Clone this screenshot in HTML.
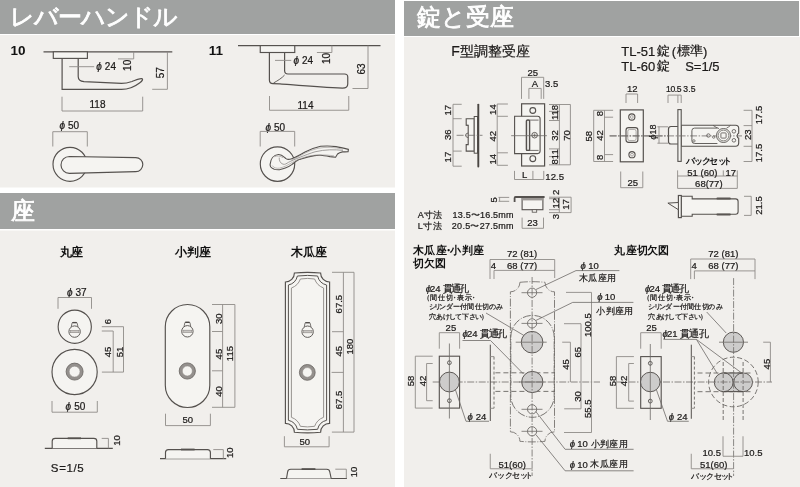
<!DOCTYPE html><html lang="ja"><head><meta charset="utf-8"><style>
html,body{margin:0;padding:0;background:#fff;width:800px;height:487px;overflow:hidden}
svg{display:block;font-family:"Liberation Sans",sans-serif;will-change:transform}
.o{fill:none;stroke:#55514e;stroke-width:1.2}
.of{fill:#f5f4f1;stroke:#55514e;stroke-width:1.15}
.d{fill:none;stroke:#8e8b88;stroke-width:0.9}
.dk{fill:none;stroke:#6d6a67;stroke-width:0.8}
.cl{fill:none;stroke:#6f6b68;stroke-width:0.8;stroke-dasharray:7 1.5 1.5 1.5}
.ds{fill:none;stroke:#6a6663;stroke-width:0.9;stroke-dasharray:3 2}
.g{fill:#cdcccb;stroke:#55514e;stroke-width:0.95}
.t{fill:#1c1a19;stroke:#1c1a19;stroke-width:0.22px}
.tb{fill:#111;font-weight:bold}
.h{fill:#fff;stroke:#fff;stroke-width:0.8px}
.h2{letter-spacing:-0.9px}
.phi{font-style:italic}
</style></head><body>
<svg width="800" height="487" viewBox="0 0 800 487">
<rect x="0" y="0" width="800" height="487" fill="#fff"/>
<rect x="0" y="0" width="395" height="34" fill="#a0a2a1"/>
<rect x="0" y="35" width="395" height="152.5" fill="#f1efec"/>
<rect x="0" y="193" width="395" height="36" fill="#a0a2a1"/>
<rect x="0" y="230.5" width="395" height="256.5" fill="#f1efec"/>
<rect x="404" y="1" width="395" height="35" fill="#a0a2a1"/>
<rect x="404" y="37" width="396" height="450" fill="#f1efec"/>
<text x="9.78" y="25.02" font-size="23.5" class="h" style="letter-spacing:-0.95px">レバーハンドル</text>
<text x="11.29" y="219.12" font-size="23.5" class="h" >座</text>
<text x="416.76" y="25.12" font-size="23.5" class="h" >錠と受座</text>
<text x="10.62" y="54.8" font-size="13.5" class="tb" >10</text>
<line x1="43.5" y1="51.8" x2="172.3" y2="51.8" class="o" />
<rect x="53.3" y="51.8" width="34.1" height="6.6" class="of" />
<path d="M62.1,58.4 V89.4 H121.5 C128,89.4 135,86.5 139.5,83 C142.5,80.8 143.5,79 141.5,78.6 C139.5,78.3 136,80 132,81.5 C128,82.8 125,83.4 121.5,83.4 L84,81.6 C80,81.3 78.2,79.5 78.2,76.5 V58.4" class="o" />
<line x1="69.2" y1="66.7" x2="94.2" y2="66.7" class="d" />
<text x="96.3" y="70" font-size="10" class="t"><tspan class="phi">ϕ</tspan><tspan dx="3.0">24</tspan></text>
<text transform="translate(131.2,70.9) rotate(-90)" font-size="10" class="t" >10</text>
<polyline points="118,58.9 133.7,58.9 133.7,51.8" class="d" />
<text transform="translate(164,78.3) rotate(-90)" font-size="10" class="t" >57</text>
<polyline points="152.2,89.3 167.4,89.3 167.4,51.8" class="d" />
<polyline points="62,96.7 62,111 142.7,111 142.7,96.7" class="d" />
<text x="89.5" y="108.4" font-size="10" class="t" >118</text>
<text x="59.5" y="129.4" font-size="10" class="t"><tspan class="phi">ϕ</tspan><tspan dx="3.0">50</tspan></text>
<polyline points="52.8,146.5 52.8,131.7 87.3,131.7 87.3,146.5" class="d" />
<circle cx="70" cy="164.3" r="17" class="of" />
<path d="M69.4,156.5 L135.8,157.6 A7,7 0 0 1 135.8,171.6 L69.4,173.3 A8.4,8.4 0 0 1 69.4,156.5 Z" class="of" />
<text x="208.82" y="54.75" font-size="13.5" class="tb" >11</text>
<line x1="238" y1="45.6" x2="380.5" y2="45.6" class="o" />
<rect x="260.25" y="45.6" width="34.5" height="6.9" class="of" />
<path d="M269.4,52.5 V80 Q269.4,83.6 273,83.7 L280,83.8 C295,85 320,87.5 342.5,88.1 Q347.75,88.1 347.75,84 V77 Q347.75,74 344.5,74 H288 Q284.6,74 284.6,70.5 V52.5" class="o" />
<path d="M284.6,75 C282,78 278,80.5 273.5,83" class="o"  style="stroke-width:0.9"/>
<line x1="275" y1="60.4" x2="291.25" y2="60.4" class="d" />
<text x="293.5" y="63.75" font-size="10" class="t"><tspan class="phi">ϕ</tspan><tspan dx="3.0">24</tspan></text>
<text transform="translate(330,64.0) rotate(-90)" font-size="10" class="t" >10</text>
<polyline points="316.9,52.5 331.9,52.5 331.9,45.6" class="d" />
<text transform="translate(365,74.5) rotate(-90)" font-size="10" class="t" >63</text>
<polyline points="352.5,88.5 368,88.5 368,45.6" class="d" />
<polyline points="269.5,96 269.5,110.25 348.75,110.25 348.75,96" class="d" />
<text x="297.5" y="108.5" font-size="10" class="t" >114</text>
<text x="265.4" y="130.5" font-size="10" class="t"><tspan class="phi">ϕ</tspan><tspan dx="3.0">50</tspan></text>
<polyline points="260.2,146.5 260.2,131.4 294.7,131.4 294.7,146.5" class="d" />
<circle cx="277.5" cy="164.1" r="17.2" class="of" />
<path d="M270.1,164.4 C270.5,159 273.5,154.8 278.5,154.5 C282,154.4 284,157 286,158.6 C287.5,159.6 289,159.6 291,159 C296,157.5 300,155 305,152 C310,149.5 315,147.5 320.6,146.3 C327,145.6 332,146 336,146.6 C340,147.3 344,148.3 348.4,149.4 L348.1,151.6 C346,151.7 344,151.8 342.5,151.9 C340,152.4 338.5,153.2 337.5,154 L335.6,157.2 C333,156.8 331.5,156.6 330,156.6 C326,155.9 323,155.4 320.6,155.3 C318,155.2 316.5,155.3 314.4,155.6 C308,156.5 304,158 299,159.6 C296,161 294,162.8 292.1,164.4 C290,166 288,167.2 285.3,168 C282,169.2 280,169.8 278.5,169.8 C276,169.8 274.5,169.6 273.8,169.1 C272.5,168.5 271.5,167.8 270.8,167 C270.3,166.2 270.1,165.4 270.1,164.4 Z" class="of"  style="stroke-width:1.1"/>
<path d="M279.2,157.6 C279,160.5 280.5,163.5 283,164.2 C285,164.8 286.5,163.5 288.5,162.3 C294,159.5 305,155 315,151.8 C325,149.4 335,149.4 343,150.4" class="o"  style="stroke-width:0.75;stroke:#858180"/>
<path d="M272.2,165.5 C273.5,167.8 276.5,168.6 279.5,168.1 C284,167.2 288,165 292,162.5 C297,159.6 303,157.4 309,156 C316,154.6 324,154.4 334,155.8" class="o"  style="stroke-width:0.6;stroke:#9a9693"/>
<path d="M274.5,156.8 C277,155.6 280.5,155.8 283,157.8 M291.5,160.2 C300,156 308,150.5 318,148.3 C326,146.8 334,147 343,149.2" class="o"  style="stroke-width:0.6;stroke:#9a9693"/>
<text x="60.0 71.24" y="256.04" font-size="12" class="tb" >丸座</text>
<text x="174.64 186.99 198.74" y="256.04" font-size="12" class="tb" >小判座</text>
<text x="290.92 302.71 314.74" y="256.04" font-size="12" class="tb" >木瓜座</text>
<text x="67" y="295.8" font-size="10" class="t"><tspan class="phi">ϕ</tspan><tspan dx="3.0">37</tspan></text>
<polyline points="58,308.8 58,297.5 91.5,297.5 91.5,308.8" class="d" />
<circle cx="74.75" cy="326.7" r="16.6" class="of" />
<path d="M71.19999999999999,327.0 L72.0,323.20000000000005 Q72.19999999999999,322.40000000000003 73.0,322.40000000000003 H76.19999999999999 Q77.0,322.40000000000003 77.19999999999999,323.20000000000005 L78.0,327.0" class="of"  style="stroke-width:0.9;stroke:#6a6663"/>
<line x1="72.39999999999999" y1="322.70000000000005" x2="76.8" y2="322.70000000000005" class="o"  style="stroke-width:1.2;stroke:#4a4643"/>
<circle cx="74.6" cy="331.6" r="5.7" class="of"  style="stroke-width:1;stroke:#5f5b58"/>
<rect x="70.19999999999999" y="330.5" width="8.8" height="2.2" class="o"  style="fill:#c8c5c2;stroke:#8a8683;stroke-width:0.6"/>
<circle cx="74.6" cy="372" r="22.6" class="of" />
<path d="M66.1,371.6 a8.5,8.5 0 1 0 17.0,0 a8.5,8.5 0 1 0 -17.0,0 Z M69.19999999999999,371.6 a5.3999999999999995,5.3999999999999995 0 1 0 10.799999999999999,0 a5.3999999999999995,5.3999999999999995 0 1 0 -10.799999999999999,0 Z" fill="#94908d" fill-rule="evenodd"/>
<circle cx="74.6" cy="371.6" r="8.5" class="o"  style="stroke:#67635f;stroke-width:0.8"/>
<circle cx="74.6" cy="371.6" r="5.3999999999999995" class="o"  style="stroke:#8e8a87;stroke-width:0.5"/>
<text transform="translate(110.6,324.28) rotate(-90)" font-size="9.5" class="t" >6</text>
<line x1="101.8" y1="326.7" x2="123.5" y2="326.7" class="d" />
<line x1="101.8" y1="331" x2="113.2" y2="331" class="d" />
<line x1="113.2" y1="331" x2="113.2" y2="372.1" class="d" />
<line x1="123.5" y1="326.7" x2="123.5" y2="372.1" class="d" />
<line x1="101.9" y1="372.1" x2="123.5" y2="372.1" class="d" />
<text transform="translate(111.2,357.28) rotate(-90)" font-size="9.5" class="t" >45</text>
<text transform="translate(122.6,357.28) rotate(-90)" font-size="9.5" class="t" >51</text>
<text x="65.6" y="409.8" font-size="10" class="t"><tspan class="phi">ϕ</tspan><tspan dx="3.0">50</tspan></text>
<polyline points="52,401 52,412.2 97.3,412.2 97.3,401" class="d" />
<line x1="44.8" y1="448.3" x2="112.8" y2="448.3" class="o" />
<path d="M52.2,448.3 V441.2 Q52.2,438.4 55.2,438.4 H93.8 Q96.8,438.4 96.8,441.2 V448.3" class="of" />
<line x1="67.7" y1="438.3" x2="81" y2="438.3" class="o"  style="stroke-width:1.8"/>
<polyline points="101.7,438.4 108.4,438.4 108.4,448.3" class="d" />
<text transform="translate(120.2,445.78) rotate(-90)" font-size="9.5" class="t" >10</text>
<text x="50.82" y="471.9" font-size="11.5" class="t"  textLength="32.95" lengthAdjust="spacing">S=1/5</text>
<path d="M165.3,326.75 A22.25,22.25 0 0 1 209.8,326.75 V385.25 A22.25,22.25 0 0 1 165.3,385.25 Z" class="of" />
<path d="M184.0,326.7 L184.8,322.90000000000003 Q185.0,322.1 185.8,322.1 H189.0 Q189.8,322.1 190.0,322.90000000000003 L190.8,326.7" class="of"  style="stroke-width:0.9;stroke:#6a6663"/>
<line x1="185.20000000000002" y1="322.40000000000003" x2="189.6" y2="322.40000000000003" class="o"  style="stroke-width:1.2;stroke:#4a4643"/>
<circle cx="187.4" cy="331.3" r="5.7" class="of"  style="stroke-width:1;stroke:#5f5b58"/>
<rect x="183.0" y="330.2" width="8.8" height="2.2" class="o"  style="fill:#c8c5c2;stroke:#8a8683;stroke-width:0.6"/>
<path d="M179.20000000000002,371.0 a8.1,8.1 0 1 0 16.2,0 a8.1,8.1 0 1 0 -16.2,0 Z M182.3,371.0 a4.999999999999999,4.999999999999999 0 1 0 9.999999999999998,0 a4.999999999999999,4.999999999999999 0 1 0 -9.999999999999998,0 Z" fill="#94908d" fill-rule="evenodd"/>
<circle cx="187.3" cy="371.0" r="8.1" class="o"  style="stroke:#67635f;stroke-width:0.8"/>
<circle cx="187.3" cy="371.0" r="4.999999999999999" class="o"  style="stroke:#8e8a87;stroke-width:0.5"/>
<line x1="212" y1="304.5" x2="234.9" y2="304.5" class="d" />
<line x1="212" y1="331.5" x2="222.6" y2="331.5" class="d" />
<line x1="212" y1="370.8" x2="222.6" y2="370.8" class="d" />
<line x1="212" y1="407.3" x2="234.9" y2="407.3" class="d" />
<line x1="222.6" y1="304.5" x2="222.6" y2="407.3" class="d" />
<line x1="234.9" y1="304.5" x2="234.9" y2="407.3" class="d" />
<text transform="translate(222.4,324.08) rotate(-90)" font-size="9.5" class="t" >30</text>
<text transform="translate(222.2,359.38) rotate(-90)" font-size="9.5" class="t" >45</text>
<text transform="translate(222.2,396.68) rotate(-90)" font-size="9.5" class="t" >40</text>
<text transform="translate(232.8,361.18) rotate(-90)" font-size="9.5" class="t" >115</text>
<polyline points="165.5,413.7 165.5,425.6 210.4,425.6 210.4,413.7" class="d" />
<text x="182.53" y="423.3" font-size="9.5" class="t" >50</text>
<line x1="160" y1="458.7" x2="226.2" y2="458.7" class="o" />
<path d="M165.5,458.7 V452.6 Q165.5,449.6 168.5,449.6 H207.4 Q210.4,449.6 210.4,452.6 V458.7" class="of" />
<line x1="181" y1="449.5" x2="194.6" y2="449.5" class="o"  style="stroke-width:1.8"/>
<polyline points="213.3,449.6 223.3,449.6 223.3,458.7" class="d" />
<text transform="translate(233.4,457.98) rotate(-90)" font-size="9.5" class="t" >10</text>
<path d="M294.40,273.00 Q307.50,271.80 320.60,273.00 A9,9 0 0 0 329.60,282.00 V423.30 A9,9 0 0 0 320.60,432.30 Q307.50,433.50 294.40,432.30 A9,9 0 0 0 285.40,423.30 V282.00 A9,9 0 0 0 294.40,273.00 Z" class="of" />
<path d="M297.40,276.00 Q307.50,274.80 317.60,276.00 A12.0,12.0 0 0 0 326.60,285.00 V420.30 A12.0,12.0 0 0 0 317.60,429.30 Q307.50,430.50 297.40,429.30 A12.0,12.0 0 0 0 288.40,420.30 V285.00 A12.0,12.0 0 0 0 297.40,276.00 Z" class="o"  style="stroke-width:1"/>
<path d="M300.40,279.00 Q307.50,277.80 314.60,279.00 A15.0,15.0 0 0 0 323.60,288.00 V417.30 A15.0,15.0 0 0 0 314.60,426.30 Q307.50,427.50 300.40,426.30 A15.0,15.0 0 0 0 291.40,417.30 V288.00 A15.0,15.0 0 0 0 300.40,279.00 Z" class="o"  style="stroke:#8c8885;stroke-width:0.9"/>
<path d="M304.20000000000005,327.09999999999997 L305.0,323.3 Q305.20000000000005,322.5 306.0,322.5 H309.20000000000005 Q310.0,322.5 310.20000000000005,323.3 L311.0,327.09999999999997" class="of"  style="stroke-width:0.9;stroke:#6a6663"/>
<line x1="305.40000000000003" y1="322.8" x2="309.8" y2="322.8" class="o"  style="stroke-width:1.2;stroke:#4a4643"/>
<circle cx="307.6" cy="331.7" r="5.7" class="of"  style="stroke-width:1;stroke:#5f5b58"/>
<rect x="303.20000000000005" y="330.59999999999997" width="8.8" height="2.2" class="o"  style="fill:#c8c5c2;stroke:#8a8683;stroke-width:0.6"/>
<path d="M299.40000000000003,372.4 a7.9,7.9 0 1 0 15.8,0 a7.9,7.9 0 1 0 -15.8,0 Z M302.5,372.4 a4.8,4.8 0 1 0 9.6,0 a4.8,4.8 0 1 0 -9.6,0 Z" fill="#94908d" fill-rule="evenodd"/>
<circle cx="307.3" cy="372.4" r="7.9" class="o"  style="stroke:#67635f;stroke-width:0.8"/>
<circle cx="307.3" cy="372.4" r="4.8" class="o"  style="stroke:#8e8a87;stroke-width:0.5"/>
<line x1="343.4" y1="272.3" x2="343.4" y2="432.1" class="d" />
<line x1="354.0" y1="272.3" x2="354.0" y2="432.1" class="d" />
<line x1="332" y1="272.3" x2="354" y2="272.3" class="d" />
<line x1="332" y1="331.7" x2="343.4" y2="331.7" class="d" />
<line x1="331.6" y1="372.4" x2="343.4" y2="372.4" class="d" />
<line x1="331.9" y1="432.1" x2="354" y2="432.1" class="d" />
<text transform="translate(342.3,313.38) rotate(-90)" font-size="9.5" class="t" >67.5</text>
<text transform="translate(342.3,356.48) rotate(-90)" font-size="9.5" class="t" >45</text>
<text transform="translate(342.3,409.28) rotate(-90)" font-size="9.5" class="t" >67.5</text>
<text transform="translate(353.2,354.48) rotate(-90)" font-size="9.5" class="t" >180</text>
<polyline points="284.4,436.2 284.4,446.8 329.1,446.8 329.1,436.2" class="d" />
<text x="299.52" y="445.4" font-size="9.5" class="t" >50</text>
<line x1="280.3" y1="478.5" x2="347" y2="478.5" class="o" />
<path d="M286.5,478.5 L287.6,472 Q287.9,469.2 290.8,469.2 H326.6 Q329.5,469.2 329.8,472 L331.2,478.5" class="of" />
<line x1="301.6" y1="469.1" x2="315.4" y2="469.1" class="o"  style="stroke-width:1.8"/>
<polyline points="335.3,469.2 346.3,469.2 346.3,478.5" class="d" />
<text transform="translate(357.3,477.18) rotate(-90)" font-size="9.5" class="t" >10</text>
<text x="451.18 460.06 474.4 488.32 502.38 516.16" y="55.78" font-size="14" class="t" >F型調整受座</text>
<text x="621.25" y="55.75" font-size="13" class="t" >TL-51</text>
<text x="656.87" y="55.36" font-size="13" class="t" >錠</text>
<text x="671.75" y="55.75" font-size="13" class="t" >(</text>
<text x="677.47" y="55.36" font-size="13" class="t" style="letter-spacing:-0.6px">標準</text>
<text x="702.95" y="55.75" font-size="13" class="t" >)</text>
<text x="621.25" y="70.9" font-size="13" class="t" >TL-60</text>
<text x="656.87" y="70.46" font-size="13" class="t" >錠</text>
<text x="685.15" y="70.9" font-size="13" class="t" >S=1/5</text>
<line x1="453" y1="104.3" x2="453" y2="166.2" class="d" />
<line x1="453" y1="104.3" x2="461.7" y2="104.3" class="d" />
<line x1="453" y1="118.7" x2="461.7" y2="118.7" class="d" />
<line x1="453" y1="151.1" x2="461.7" y2="151.1" class="d" />
<line x1="453" y1="166.2" x2="461.7" y2="166.2" class="d" />
<text transform="translate(451.3,115.57) rotate(-90)" font-size="9.5" class="t" >17</text>
<text transform="translate(451.3,140.07) rotate(-90)" font-size="9.5" class="t" >36</text>
<text transform="translate(451.3,162.38) rotate(-90)" font-size="9.5" class="t" >17</text>
<path d="M474.3,118.7 H466.2 V125.3 H468.2 V144.6 H466.2 V151.1 H474.3 Z" class="of"  style="stroke-width:1.1"/>
<line x1="466.2" y1="125.3" x2="468.2" y2="125.3" class="o"  style="stroke-width:0.7"/>
<rect x="474.2" y="116.5" width="3.4" height="36.7" class="of"  style="stroke-width:1.0"/>
<path d="M468.2,133 Q465.6,133.2 465.6,135.3 Q465.6,137.4 468.2,137.6" class="o"  style="stroke-width:0.8"/>
<line x1="478.3" y1="104.6" x2="478.3" y2="166.5" class="o"  style="stroke-width:1.9;stroke-linecap:round;stroke:#4a4643"/>
<line x1="456.6" y1="135.3" x2="482.5" y2="135.3" class="cl" />
<text x="527.52" y="75.8" font-size="9.5" class="t" >25</text>
<polyline points="521.5,98.9 521.5,77.3 543.7,77.3 543.7,98.9" class="d" />
<text x="531.73" y="86.9" font-size="9.5" class="t" >A</text>
<polyline points="528.9,98.9 528.9,88.4 541.2,88.4 541.2,98.9" class="d" />
<text x="545.02" y="86.9" font-size="9.5" class="t" >3.5</text>
<rect x="521.6" y="103.8" width="23" height="62.2" class="of"  style="stroke-width:1.2"/>
<circle cx="532.8" cy="110.5" r="2.9" class="o"  style="stroke-width:1.1"/>
<circle cx="532.8" cy="158.7" r="2.9" class="o"  style="stroke-width:1.1"/>
<path d="M514.6,116.3 H537.6 Q540.1,116.3 540.1,118.8 V151.1 Q540.1,153.6 537.6,153.6 H514.6 Z" class="of"  style="stroke-width:1.1"/>
<path d="M538.6,120.1 H526.6 V150.4 H538.6" class="o"  style="stroke-width:0.8"/>
<rect x="526.4" y="120.1" width="3.2" height="30.3" class="o" rx="0.8" style="stroke-width:1.4"/>
<line x1="511.2" y1="135.7" x2="546.9" y2="135.7" class="dk" />
<circle cx="534.6" cy="135.2" r="2.8" class="o"  style="stroke-width:0.9"/>
<line x1="532.8" y1="135.2" x2="536.4" y2="135.2" class="o"  style="stroke-width:0.6"/>
<line x1="534.6" y1="133.4" x2="534.6" y2="137" class="o"  style="stroke-width:0.6"/>
<line x1="497.2" y1="104" x2="497.2" y2="165.3" class="d" />
<line x1="497.2" y1="104" x2="507.9" y2="104" class="d" />
<line x1="497.2" y1="116.3" x2="507.9" y2="116.3" class="d" />
<line x1="497.2" y1="152.8" x2="507.9" y2="152.8" class="d" />
<line x1="497.2" y1="165.3" x2="507.9" y2="165.3" class="d" />
<text transform="translate(495.9,114.88) rotate(-90)" font-size="9.5" class="t" >14</text>
<text transform="translate(495.9,141.47) rotate(-90)" font-size="9.5" class="t" >42</text>
<text transform="translate(495.9,164.47) rotate(-90)" font-size="9.5" class="t" >14</text>
<line x1="559.4" y1="104.5" x2="559.4" y2="164.8" class="d" />
<line x1="570.4" y1="104.5" x2="570.4" y2="164.8" class="d" />
<line x1="549" y1="104.5" x2="570.4" y2="104.5" class="d" />
<line x1="549" y1="164.8" x2="570.4" y2="164.8" class="d" />
<line x1="549" y1="111.4" x2="559.4" y2="111.4" class="d" />
<line x1="549" y1="120.5" x2="559.4" y2="120.5" class="d" />
<line x1="549" y1="148.9" x2="559.4" y2="148.9" class="d" />
<line x1="549" y1="156.6" x2="559.4" y2="156.6" class="d" />
<text transform="translate(558,120.07) rotate(-90)" font-size="9.5" class="t" >118</text>
<text transform="translate(558,140.67) rotate(-90)" font-size="9.5" class="t" >32</text>
<text transform="translate(558,164.47) rotate(-90)" font-size="9.5" class="t" >811</text>
<text transform="translate(569.6,140.67) rotate(-90)" font-size="9.5" class="t" >70</text>
<polyline points="514.5,170.9 514.5,179.5 543.75,179.5 543.75,170.9" class="d" />
<line x1="532.9" y1="170.9" x2="532.9" y2="179.5" class="d" />
<text x="521.92" y="177.6" font-size="9.5" class="t" >L</text>
<text x="545.32" y="179.9" font-size="9.6" class="t" >12.5</text>
<line x1="498.5" y1="197.4" x2="509.2" y2="197.4" class="d" />
<line x1="498.5" y1="201.3" x2="509.2" y2="201.3" class="d" />
<line x1="499.6" y1="197.4" x2="499.6" y2="201.3" class="d" />
<text transform="translate(496.8,202.38) rotate(-90)" font-size="9.5" class="t" >5</text>
<rect x="522.1" y="197.2" width="20.8" height="12.5" class="of"  style="stroke-width:1.1"/>
<rect x="522.1" y="197.2" width="20.8" height="3.2" class="o"  style="fill:#9b9794;stroke:none"/>
<path d="M514.6,202 V198 Q514.6,197 515.6,197 H544.6" class="o"  style="stroke-width:1.8"/>
<rect x="532.2" y="209.7" width="4.5" height="2.5" class="of"  style="stroke-width:0.8"/>
<polyline points="522.1,217.6 522.1,228.3 543.5,228.3 543.5,217.6" class="d" />
<text x="527.23" y="226" font-size="9.5" class="t" >23</text>
<line x1="549.1" y1="197.2" x2="571.1" y2="197.2" class="d" />
<line x1="549.1" y1="198.7" x2="559.3" y2="198.7" class="d" />
<line x1="559.3" y1="197.2" x2="559.3" y2="212.6" class="d" />
<line x1="571.1" y1="197.2" x2="571.1" y2="212.6" class="d" />
<line x1="549" y1="209.7" x2="559.3" y2="209.7" class="d" />
<line x1="549" y1="212.6" x2="571.1" y2="212.6" class="d" />
<text transform="translate(558.7,195.07) rotate(-90)" font-size="9.5" class="t" >2</text>
<text transform="translate(558.7,208.47) rotate(-90)" font-size="9.5" class="t" >12</text>
<text transform="translate(568.8,209.67) rotate(-90)" font-size="9.5" class="t" >17</text>
<text transform="translate(558.7,219.17) rotate(-90)" font-size="9.5" class="t" >3</text>
<text x="417.8 424.13 433.16" y="218.03" font-size="9" class="t" >A寸法</text>
<text x="452.55" y="218.3" font-size="9" class="t"  textLength="60.90" lengthAdjust="spacing">13.5〜16.5mm</text>
<text x="417.78 423.49 433.16" y="228.53" font-size="9" class="t" >L寸法</text>
<text x="451.85" y="229" font-size="9" class="t"  textLength="61.60" lengthAdjust="spacing">20.5〜27.5mm</text>
<text x="626.92" y="92.3" font-size="9.5" class="t" >12</text>
<polyline points="626,103 626,94 637.6,94 637.6,103" class="d" />
<rect x="620.3" y="109.9" width="23" height="51.9" class="of"  style="stroke-width:1.2"/>
<circle cx="631.8" cy="117" r="3.1" class="o"  style="stroke-width:1.1"/>
<circle cx="631.8" cy="117" r="1.4" class="o"  style="stroke-width:0.7;stroke:#8c8885"/>
<circle cx="632" cy="154.7" r="3.1" class="o"  style="stroke-width:1.1"/>
<circle cx="632" cy="154.7" r="1.4" class="o"  style="stroke-width:0.7;stroke:#8c8885"/>
<rect x="626" y="127.6" width="11.9" height="14.8" class="of" rx="2.6" style="stroke-width:1.1"/>
<rect x="627.8" y="129.4" width="8.3" height="11.2" class="o" rx="1.8" style="stroke-width:0.7;stroke:#8c8885"/>
<line x1="609.6" y1="135.9" x2="668" y2="135.9" class="cl" />
<line x1="593.7" y1="110.3" x2="593.7" y2="161.5" class="d" />
<line x1="604.5" y1="110.3" x2="604.5" y2="161.5" class="d" />
<line x1="593.7" y1="110.3" x2="613.1" y2="110.3" class="d" />
<line x1="604.5" y1="117.2" x2="613.1" y2="117.2" class="d" />
<line x1="604.5" y1="154.6" x2="613.1" y2="154.6" class="d" />
<line x1="593.7" y1="161.5" x2="613.1" y2="161.5" class="d" />
<text transform="translate(592,141.47) rotate(-90)" font-size="9.5" class="t" >58</text>
<text transform="translate(603,140.67) rotate(-90)" font-size="9.5" class="t" >42</text>
<text transform="translate(603,116.27) rotate(-90)" font-size="9.5" class="t" >8</text>
<text transform="translate(603,160.07) rotate(-90)" font-size="9.5" class="t" >8</text>
<polyline points="620.7,171.5 620.7,187.7 642.8,187.7 642.8,171.5" class="d" />
<text x="627.52" y="186.1" font-size="9.5" class="t" >25</text>
<text x="665.97" y="92.3" font-size="8.6" class="t"  textLength="15.66" lengthAdjust="spacing">10.5</text>
<text x="683.27" y="92.3" font-size="8.6" class="t"  textLength="12.36" lengthAdjust="spacing">3.5</text>
<polyline points="668,103 668,95.1 681.2,95.1 681.2,103" class="d" />
<line x1="677.9" y1="95.1" x2="677.9" y2="103" class="d" />
<path d="M681.2,125.2 H735.6 Q738.7,125.2 738.7,128.3 V133.2 Q737.2,133.6 737.2,135.7 Q737.2,137.8 738.7,138.2 V143.1 Q738.7,146.2 735.6,146.2 H681.2 Z" class="of"  style="stroke-width:1.1"/>
<path d="M677.9,126.5 H671 Q668.5,126.5 668.5,129 V141.5 Q668.5,144 671,144 H677.9" class="of"  style="stroke-width:1.2"/>
<rect x="677.9" y="109.6" width="3.3" height="51.8" class="of"  style="stroke-width:1.1"/>
<line x1="609.6" y1="135.9" x2="742" y2="135.9" class="cl" />
<path d="M717.4,128.1 H694.5 Q691.9,128.1 691.9,130.7 V140.9 Q691.9,143.5 694.5,143.5 H717.4" class="o"  style="stroke-width:0.9"/>
<circle cx="693.9" cy="140.9" r="1.2" class="o"  style="stroke-width:0.7"/>
<path d="M713.1,125.4 Q716,127.5 719,128.6 M726.5,128.2 Q729,126.8 730.5,125.4" class="o"  style="stroke-width:0.8"/>
<circle cx="723.5" cy="135.5" r="7.0" class="of"  style="stroke-width:0.9"/>
<circle cx="723.5" cy="135.5" r="5.4" class="o"  style="stroke-width:0.7"/>
<rect x="720.9" y="132.9" width="5.2" height="5.2" class="o" rx="0.8" style="stroke-width:0.8"/>
<circle cx="733.9" cy="131.3" r="1.8" class="o"  style="stroke-width:0.8"/>
<circle cx="733.9" cy="140.3" r="1.8" class="o"  style="stroke-width:0.8"/>
<circle cx="708.4" cy="135.5" r="1.7" class="o"  style="stroke-width:0.8"/>
<circle cx="713.7" cy="137.1" r="1.2" class="o"  style="stroke-width:0.7"/>
<line x1="657.4" y1="126.8" x2="668" y2="126.8" class="d" />
<line x1="657.4" y1="143.2" x2="668" y2="143.2" class="d" />
<line x1="659" y1="126.8" x2="659" y2="143.2" class="d" />
<text transform="translate(655.6,139.6) rotate(-90)" font-size="9" class="t"><tspan class="phi">ϕ</tspan>18</text>
<line x1="752" y1="110.3" x2="752" y2="161.5" class="d" />
<line x1="743.6" y1="110.3" x2="752" y2="110.3" class="d" />
<line x1="743.6" y1="125.6" x2="752" y2="125.6" class="d" />
<line x1="743.6" y1="146.3" x2="752" y2="146.3" class="d" />
<line x1="743.6" y1="161.5" x2="752" y2="161.5" class="d" />
<text transform="translate(750.8,139.97) rotate(-90)" font-size="9.5" class="t" >23</text>
<text transform="translate(761.6,124.17) rotate(-90)" font-size="9.5" class="t" >17.5</text>
<text transform="translate(761.6,162.28) rotate(-90)" font-size="9.5" class="t" >17.5</text>
<text x="685.56 693.97 701.58 709.25 718.17 723.32" y="163.55" font-size="8.8" class="tb" >バックセット</text>
<line x1="677.6" y1="176" x2="737.3" y2="176" class="d" />
<line x1="677.6" y1="188.4" x2="737.3" y2="188.4" class="d" />
<line x1="677.6" y1="170.4" x2="677.6" y2="188.4" class="d" />
<line x1="737.3" y1="170.4" x2="737.3" y2="188.4" class="d" />
<line x1="723.3" y1="170.4" x2="723.3" y2="176" class="d" />
<text x="687.32" y="175.7" font-size="9.5" class="t" >51 (60)</text>
<text x="725.52" y="175.7" font-size="9.5" class="t" >17</text>
<text x="695.12" y="187.3" font-size="9.5" class="t" >68(77)</text>
<path d="M681,196.3 H692.2 V198.9 H735.6 Q738.1,198.9 738.1,201.4 V211.8 Q738.1,214.3 735.6,214.3 H692.2 V216.2 H681 Z" class="of"  style="stroke-width:1.1"/>
<rect x="716.4" y="197.5" width="14.5" height="2.1" class="o" rx="1" style="fill:#5a5653;stroke:none"/>
<rect x="716.4" y="213.5" width="14.5" height="2.1" class="o" rx="1" style="fill:#5a5653;stroke:none"/>
<rect x="678.4" y="195.5" width="2.9" height="22.1" class="of"  style="stroke-width:1.2"/>
<path d="M678.4,202.5 L667.9,203.1 L678.4,209.7 Z" class="of"  style="stroke-width:1"/>
<line x1="744" y1="196.3" x2="751.2" y2="196.3" class="d" />
<line x1="744" y1="215.4" x2="751.2" y2="215.4" class="d" />
<line x1="751.2" y1="196.3" x2="751.2" y2="215.4" class="d" />
<text transform="translate(761.6,214.72) rotate(-90)" font-size="9.5" class="t" >21.5</text>
<text x="413.01 424.35 435.9 442.6 450.05 461.6 472.62" y="254.34" font-size="10.8" class="tb" >木瓜座・小判座</text>
<text x="413.12 423.74 434.57" y="267.24" font-size="10.8" class="tb" >切欠図</text>
<text x="614.2 625.52 636.85 647.2 657.77" y="254.44" font-size="10.8" class="tb" >丸座切欠図</text>
<text x="507.02" y="256.8" font-size="9.5" class="t" >72 (81)</text>
<text x="490.82" y="268.9" font-size="9.5" class="t" >4</text>
<text x="507.02" y="268.8" font-size="9.5" class="t" >68 (77)</text>
<line x1="490" y1="259.5" x2="554.7" y2="259.5" class="d" />
<line x1="494" y1="270.4" x2="554.7" y2="270.4" class="d" />
<line x1="490" y1="259.5" x2="490" y2="279" class="d" />
<line x1="494" y1="270.4" x2="494" y2="279" class="d" />
<line x1="554.7" y1="259.5" x2="554.7" y2="278" class="d" />
<path d="M519.90,282.30 Q532.45,281.10 545.00,282.30 A9.5,9.5 0 0 0 554.50,291.80 V431.80 A9.5,9.5 0 0 0 545.00,441.30 Q532.45,442.50 519.90,441.30 A9.5,9.5 0 0 0 510.40,431.80 V291.80 A9.5,9.5 0 0 0 519.90,282.30 Z" class="ds"  style="stroke-dasharray:8 1.5 1 1.5;stroke:#77736f"/>
<path d="M510.8,337.1 A21.7,21.7 0 0 1 554.2,337.1 V395.6 A21.7,21.7 0 0 1 510.8,395.6 Z" class="ds"  style="stroke-dasharray:8 1.5 1 1.5;stroke:#6a6663"/>
<line x1="495.4" y1="372.8" x2="555" y2="372.8" class="ds"  style="stroke-dasharray:5 3"/>
<line x1="495.4" y1="391.4" x2="555" y2="391.4" class="ds"  style="stroke-dasharray:5 3"/>
<circle cx="532.1" cy="342.2" r="10.8" class="g" />
<circle cx="532.3" cy="382.0" r="10.6" class="g" />
<line x1="532.1" y1="277" x2="532.1" y2="476" class="cl" />
<line x1="432.7" y1="382.0" x2="600" y2="382.0" class="cl" />
<circle cx="532.1" cy="292.7" r="4.6" class="dk"  style="stroke-width:0.9"/>
<line x1="521.5" y1="292.7" x2="542.5" y2="292.7" class="dk" />
<circle cx="532.1" cy="323.4" r="4.6" class="dk"  style="stroke-width:0.9"/>
<line x1="521.5" y1="323.4" x2="542.5" y2="323.4" class="dk" />
<circle cx="532.1" cy="409.3" r="4.6" class="dk"  style="stroke-width:0.9"/>
<line x1="521.5" y1="409.3" x2="542.5" y2="409.3" class="dk" />
<circle cx="532.1" cy="431.3" r="4.6" class="dk"  style="stroke-width:0.9"/>
<line x1="521.5" y1="431.3" x2="542.5" y2="431.3" class="dk" />
<line x1="515.7" y1="342.2" x2="546.7" y2="342.2" class="dk" />
<line x1="519" y1="382.0" x2="545" y2="382.0" class="dk" />
<line x1="490.3" y1="344.7" x2="490.3" y2="421" class="o"  style="stroke-width:1"/>
<line x1="494" y1="356.6" x2="494" y2="408.3" class="ds" />
<line x1="490.3" y1="356.6" x2="494" y2="356.6" class="d" />
<line x1="490.3" y1="408.3" x2="494" y2="408.3" class="d" />
<rect x="439.3" y="356.2" width="20.3" height="51.9" class="o"  style="stroke-width:1.1"/>
<circle cx="449.4" cy="382.0" r="9.9" class="g" />
<line x1="449.4" y1="343.5" x2="449.4" y2="418.5" class="dk" />
<circle cx="449.4" cy="362.7" r="1.9" class="o"  style="stroke-width:0.9"/>
<circle cx="449.4" cy="400.7" r="1.9" class="o"  style="stroke-width:0.9"/>
<polyline points="439.3,348.7 439.3,332.7 459.6,332.7 459.6,348.7" class="d" />
<text x="445.62" y="331.3" font-size="9.5" class="t" >25</text>
<line x1="415.3" y1="356.2" x2="415.3" y2="408.1" class="d" />
<line x1="415.3" y1="356.2" x2="432.7" y2="356.2" class="d" />
<line x1="415.3" y1="408.1" x2="432.7" y2="408.1" class="d" />
<text transform="translate(414.3,386.18) rotate(-90)" font-size="9.5" class="t" >58</text>
<line x1="426.6" y1="363.5" x2="426.6" y2="400.7" class="d" />
<line x1="426.6" y1="363.5" x2="432.7" y2="363.5" class="d" />
<line x1="426.6" y1="400.7" x2="432.7" y2="400.7" class="d" />
<text transform="translate(425.6,386.18) rotate(-90)" font-size="9.5" class="t" >42</text>
<line x1="591.5" y1="292.4" x2="591.5" y2="432.5" class="d" />
<line x1="566" y1="292.4" x2="591.5" y2="292.4" class="d" />
<line x1="581" y1="323.7" x2="581" y2="408.8" class="d" />
<line x1="564" y1="323.7" x2="581" y2="323.7" class="d" />
<line x1="570.4" y1="342.2" x2="570.4" y2="382.0" class="d" />
<line x1="562.2" y1="342.2" x2="570.4" y2="342.2" class="d" />
<line x1="564.2" y1="408.8" x2="581" y2="408.8" class="d" />
<line x1="564" y1="432.5" x2="591.5" y2="432.5" class="d" />
<text transform="translate(569.4,369.78) rotate(-90)" font-size="9.5" class="t" >45</text>
<text transform="translate(580.5,357.48) rotate(-90)" font-size="9.5" class="t" >65</text>
<text transform="translate(590.7,337.08) rotate(-90)" font-size="9.5" class="t" >100.5</text>
<text transform="translate(580.5,401.68) rotate(-90)" font-size="9.5" class="t" >30</text>
<text transform="translate(590.7,418.08) rotate(-90)" font-size="9.5" class="t" >55.5</text>
<text x="580.51" y="269" font-size="9.5" class="t"><tspan class="phi">ϕ</tspan></text>
<text x="588.23" y="269" font-size="9.5" class="t" >10</text>
<text x="578.51 587.96 597.5 607.03" y="280.95" font-size="9.4" class="t" >木瓜座用</text>
<polyline points="536,289.5 576,270.6 619.4,270.6" class="dk" />
<text x="597.21" y="300.4" font-size="9.5" class="t"><tspan class="phi">ϕ</tspan></text>
<text x="604.73" y="300.4" font-size="9.5" class="t" >10</text>
<text x="595.91 605.63 614.89 624.43" y="313.65" font-size="9.4" class="t" >小判座用</text>
<polyline points="535.8,320.5 572.7,302.4 633.4,302.4" class="dk" />
<text x="569.71" y="447.4" font-size="9.5" class="t"><tspan class="phi">ϕ</tspan></text>
<text x="577.32" y="447.4" font-size="9.5" class="t" >10</text>
<text x="590.51 600.2 609.43 618.93" y="446.65" font-size="9.4" class="t" >小判座用</text>
<polyline points="535.8,411.5 565.1,449.3 633.6,449.3" class="dk" />
<text x="569.71" y="468.1" font-size="9.5" class="t"><tspan class="phi">ϕ</tspan></text>
<text x="577.32" y="468.1" font-size="9.5" class="t" >10</text>
<text x="590.41 599.86 609.4 618.93" y="467.35" font-size="9.4" class="t" >木瓜座用</text>
<polyline points="535.8,434.5 565.1,470.8 633.6,470.8" class="dk" />
<text x="425.81" y="292" font-size="9.5" class="t"><tspan class="phi">ϕ</tspan></text>
<text x="429.92" y="292" font-size="9.5" class="t" >24</text>
<text x="442.51 451.0 459.39" y="291.54" font-size="9.5" class="t" >貫通孔</text>
<text x="422.81 429.93 437.94 446.23 451.07 456.6 464.61 469.93" y="300.15" font-size="6.9" class="t" >（間仕切・表示・</text>
<text x="428.54 434.21 439.34 445.77 453.1 460.29 467.48 474.74 482.28 489.05 496.25" y="309.45" font-size="6.9" class="t" >シリンダー付間仕切のみ</text>
<text x="429.09 436.3 443.1 448.86 455.38 462.31 469.04 474.87 481.38" y="318.85" font-size="6.9" class="t" >穴あけして下さい）</text>
<line x1="486" y1="313" x2="524" y2="335.5" class="dk" />
<text x="462.51" y="337.4" font-size="9.5" class="t"><tspan class="phi">ϕ</tspan></text>
<text x="466.92" y="337.4" font-size="9.5" class="t" >24</text>
<text x="479.81 488.7 497.49" y="336.84" font-size="9.5" class="t" >貫通孔</text>
<polyline points="462.5,340.5 490.5,340.5 523.5,374" class="dk" />
<text x="467.5" y="419.5" font-size="9.5" class="t"><tspan class="phi">ϕ</tspan><tspan dx="2.85">24</tspan></text>
<polyline points="489,421.25 466,421.25 455.5,390" class="dk" />
<polyline points="490.25,453.75 490.25,468.75 532.75,468.75" class="d" />
<text x="498.52" y="468" font-size="9.5" class="t" >51(60)</text>
<text x="488.8 497.26 504.59 512.25 519.66 524.92" y="478.06" font-size="8" class="t" >バックセット</text>
<text x="708.32" y="256.5" font-size="9.5" class="t" >72 (81)</text>
<text x="691.42" y="268.9" font-size="9.5" class="t" >4</text>
<text x="708.32" y="268.9" font-size="9.5" class="t" >68 (77)</text>
<line x1="690.7" y1="259" x2="755" y2="259" class="d" />
<line x1="694.4" y1="270.9" x2="755" y2="270.9" class="d" />
<line x1="690.7" y1="259" x2="690.7" y2="279.1" class="d" />
<line x1="694.4" y1="270.9" x2="694.4" y2="279.1" class="d" />
<line x1="755" y1="259" x2="755" y2="279.1" class="d" />
<circle cx="733.4" cy="382.0" r="24.8" class="ds"  style="stroke-dasharray:5 2.5;stroke:#6a6663"/>
<line x1="697.5" y1="373" x2="751" y2="373" class="ds"  style="stroke-dasharray:5 3"/>
<line x1="697.5" y1="391.7" x2="751" y2="391.7" class="ds"  style="stroke-dasharray:5 3"/>
<rect x="723.7" y="373" width="19.4" height="18.7" class="o"  style="fill:#cdcccb;stroke:none"/>
<circle cx="723.7" cy="382.3" r="9.4" class="g" />
<circle cx="743.1" cy="382.3" r="9.4" class="g" />
<line x1="723.7" y1="373" x2="743.1" y2="373" class="o"  style="stroke-width:1.1"/>
<line x1="723.7" y1="391.6" x2="743.1" y2="391.6" class="o"  style="stroke-width:1.1"/>
<line x1="723.2" y1="362" x2="723.2" y2="420" class="ds"  style="stroke-dasharray:4 2"/>
<line x1="743.1" y1="362" x2="743.1" y2="420" class="ds"  style="stroke-dasharray:4 2"/>
<circle cx="733.4" cy="342.2" r="10.1" class="g" />
<line x1="733.6" y1="278.1" x2="733.6" y2="476" class="cl" />
<line x1="617" y1="382.0" x2="772" y2="382.0" class="cl" />
<line x1="719" y1="342.2" x2="748" y2="342.2" class="dk" />
<line x1="770.4" y1="342.2" x2="770.4" y2="382.0" class="d" />
<line x1="763.2" y1="342.2" x2="770.4" y2="342.2" class="d" />
<text transform="translate(770,369.38) rotate(-90)" font-size="9.5" class="t" >45</text>
<rect x="640.7" y="356.6" width="20.5" height="51.7" class="o"  style="stroke-width:1.1"/>
<circle cx="650.3" cy="382.0" r="9.75" class="g" />
<line x1="650.3" y1="344" x2="650.3" y2="420" class="dk" />
<circle cx="650.3" cy="363.3" r="1.9" class="o"  style="stroke-width:0.9"/>
<circle cx="650.3" cy="401.1" r="1.9" class="o"  style="stroke-width:0.9"/>
<polyline points="640.7,348.7 640.7,332.7 661.2,332.7 661.2,348.7" class="d" />
<text x="646.23" y="330.7" font-size="9.5" class="t" >25</text>
<line x1="616.4" y1="356.6" x2="616.4" y2="408.3" class="d" />
<line x1="616.4" y1="356.6" x2="633.9" y2="356.6" class="d" />
<line x1="616.4" y1="408.3" x2="633.9" y2="408.3" class="d" />
<text transform="translate(616,386.18) rotate(-90)" font-size="9.5" class="t" >58</text>
<line x1="628.7" y1="363.5" x2="628.7" y2="401.1" class="d" />
<line x1="628.7" y1="363.5" x2="633.9" y2="363.5" class="d" />
<line x1="628.7" y1="401.1" x2="633.9" y2="401.1" class="d" />
<text transform="translate(627.1,386.18) rotate(-90)" font-size="9.5" class="t" >42</text>
<line x1="691.3" y1="344.7" x2="691.3" y2="418.75" class="o"  style="stroke-width:1"/>
<line x1="694.4" y1="356.6" x2="694.4" y2="408.3" class="ds" />
<line x1="691.3" y1="356.6" x2="694.4" y2="356.6" class="d" />
<line x1="691.3" y1="408.3" x2="694.4" y2="408.3" class="d" />
<text x="645.11" y="292.2" font-size="9.5" class="t"><tspan class="phi">ϕ</tspan></text>
<text x="649.52" y="292.2" font-size="9.5" class="t" >24</text>
<text x="661.61 670.25 678.79" y="291.64" font-size="9.5" class="t" >貫通孔</text>
<text x="642.81 649.84 657.77 665.97 670.73 676.17 684.09 689.33" y="300.15" font-size="6.9" class="t" >（間仕切・表示・</text>
<text x="647.94 653.61 658.74 665.17 672.5 679.69 686.88 694.14 701.68 708.45 715.64" y="309.45" font-size="6.9" class="t" >シリンダー付間仕切のみ</text>
<text x="648.49 655.65 662.4 668.11 674.58 681.46 688.14 693.92 700.39" y="319.45" font-size="6.9" class="t" >穴あけして下さい）</text>
<line x1="706.7" y1="312" x2="726.2" y2="333" class="dk" />
<text x="662.51" y="337.4" font-size="9.5" class="t"><tspan class="phi">ϕ</tspan></text>
<text x="666.92" y="337.4" font-size="9.5" class="t" >21</text>
<text x="679.81 689.35 698.79" y="336.84" font-size="9.5" class="t" >貫通孔</text>
<polyline points="663.4,339.4 696.4,339.4 717.2,373.4" class="dk" />
<line x1="696.4" y1="339.4" x2="741.7" y2="373" class="dk" />
<text x="668.8" y="419.5" font-size="9.5" class="t"><tspan class="phi">ϕ</tspan><tspan dx="2.85">24</tspan></text>
<polyline points="688.75,421.25 667.5,421.25 656.5,390" class="dk" />
<line x1="723" y1="436.25" x2="723" y2="456.25" class="d" />
<line x1="743" y1="436.25" x2="743" y2="456.25" class="d" />
<line x1="723" y1="456.25" x2="743" y2="456.25" class="d" />
<text x="702.52" y="456.25" font-size="9.5" class="t" >10.5</text>
<text x="744.02" y="456.25" font-size="9.5" class="t" >10.5</text>
<polyline points="691.25,453.75 691.25,468.75 733,468.75" class="d" />
<text x="700.02" y="468" font-size="9.5" class="t" >51(60)</text>
<text x="690.5 698.92 706.21 713.83 721.2 726.42" y="478.66" font-size="8" class="t" >バックセット</text>
</svg></body></html>
